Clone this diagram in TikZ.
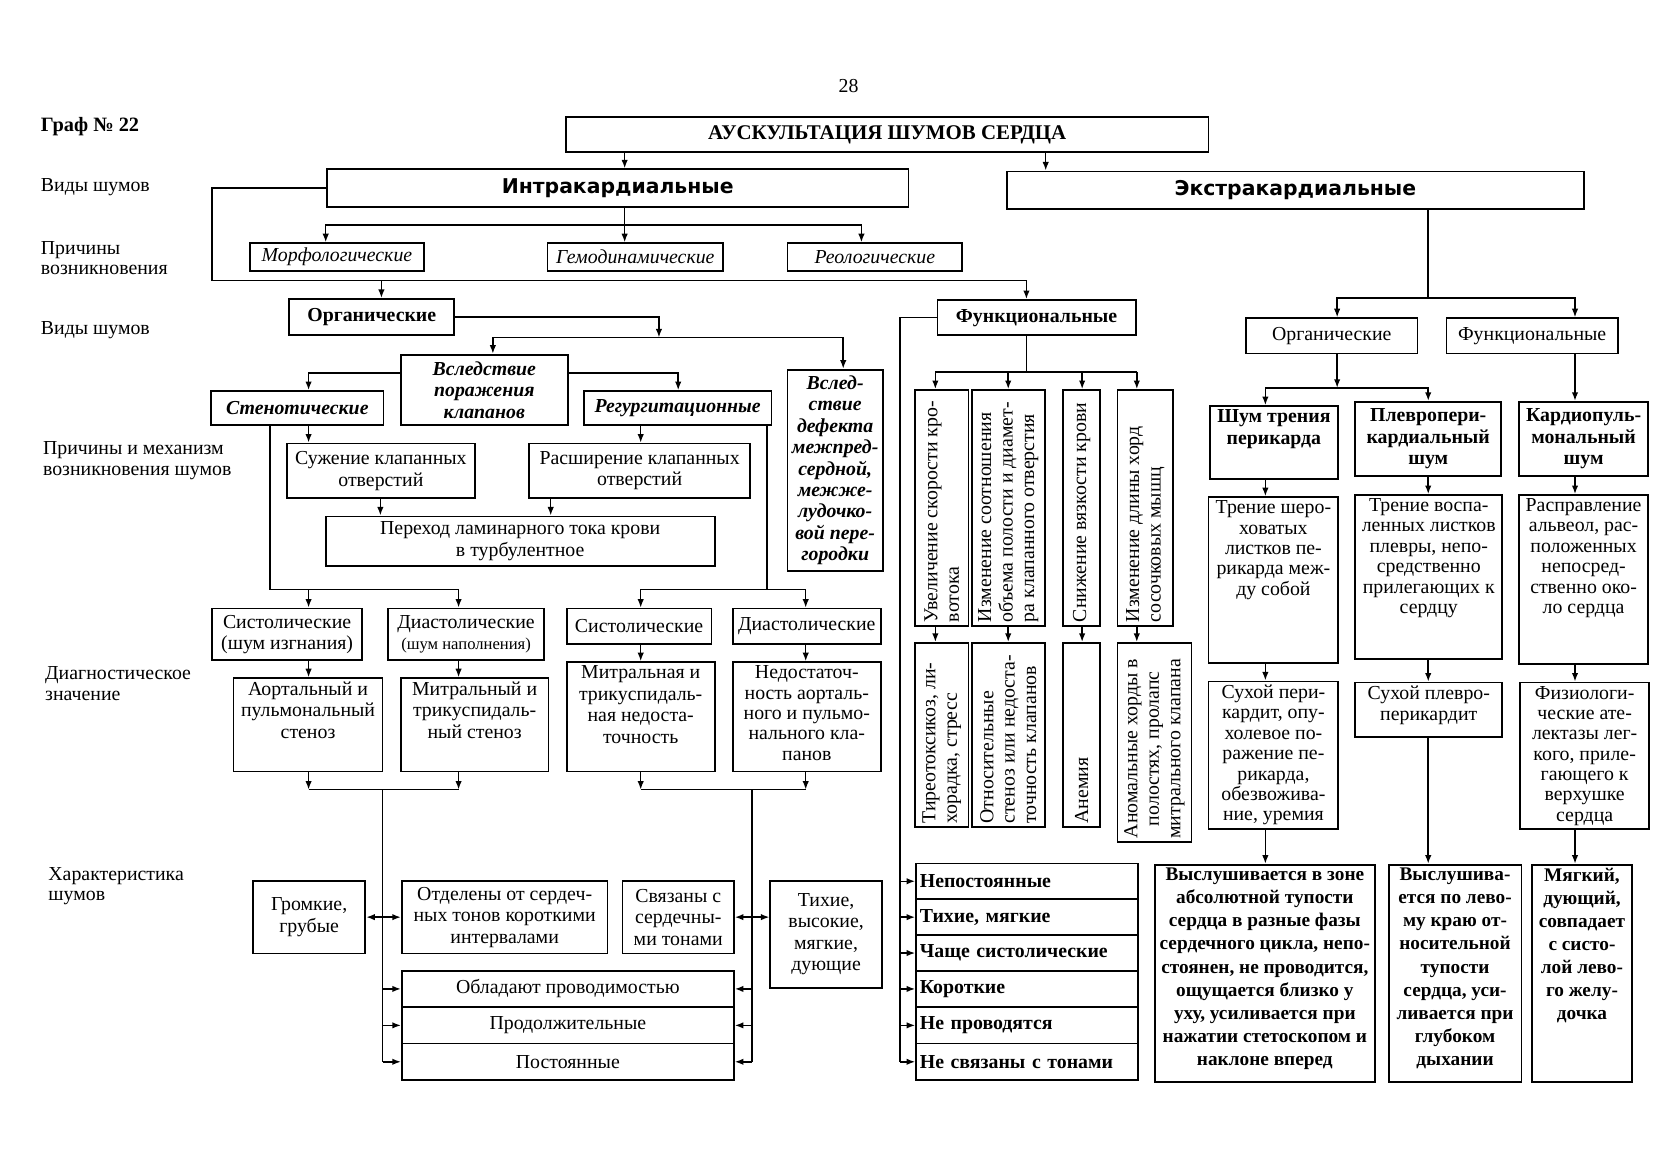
\documentclass[tikz,border=0pt]{standalone}
\usepackage{fontspec}
\setmainfont{Liberation Serif}
\newfontfamily\heavysans{DejaVu Sans}
\usetikzlibrary{arrows.meta}
\newcommand\myfs{\fontsize{18.5}{20}\selectfont}
\newcommand\tightfs{\fontsize{18.5}{19}\selectfont}
\newcommand\lblfs{\fontsize{18.5}{19}\selectfont}
\newcommand\heavyfs{\fontsize{19}{21}\heavysans\bfseries}
\tikzset{
  box/.style={draw, line width=1.7pt, inner sep=2pt, align=center, font=\myfs},
  txt/.style={inner sep=0pt, align=center, font=\myfs},
  ln/.style={line width=1.4pt},
  arr/.style={ln, -{Latex[length=8pt,width=6pt]}},
  arrr/.style={ln, {Latex[length=8pt,width=6pt]}-{Latex[length=8pt,width=6pt]}},
  lbl/.style={anchor=west, align=left, inner sep=0pt, font=\lblfs},
}
\newcommand\bx[7][]{%
  \pgfmathsetmacro\bxcx{(#3+#5)/2}\pgfmathsetmacro\bxcy{(#4+#6)/2}%
  \pgfmathsetmacro\bxw{#5-#3}\pgfmathsetmacro\bxh{#6-#4}%
  \node[box,minimum width=\bxw pt,minimum height=\bxh pt,#1] (#2) at (\bxcx,\bxcy) {#7};}
\newcommand\tbx[7][]{%
  \pgfmathsetmacro\bxcx{(#3+#5)/2}\pgfmathsetmacro\bxcy{(#4+#6)/2}%
  \pgfmathsetmacro\bxw{#5-#3}\pgfmathsetmacro\bxh{#6-#4}%
  \node[box,minimum width=\bxw pt,minimum height=\bxh pt] (#2) at (\bxcx,\bxcy) {};
  \node[txt,anchor=north,#1] (#2t) at ([yshift=-4pt]#2.north) {#7};}
\newcommand\rbx[7][]{%
  \pgfmathsetmacro\bxcx{(#3+#5)/2}\pgfmathsetmacro\bxcy{(#4+#6)/2}%
  \pgfmathsetmacro\bxw{#5-#3}\pgfmathsetmacro\bxh{#6-#4}%
  \node[box,minimum width=\bxw pt,minimum height=\bxh pt] (#2) at (\bxcx,\bxcy) {};
  \node[txt,rotate=90,anchor=west,align=left,#1] (#2t) at ([yshift=4pt]#2.south) {#7};}
\begin{document}
\begin{tikzpicture}[x=1pt,y=-1pt]
\fill[white] (0,0) rectangle (1568,1086);
\useasboundingbox (0,0) rectangle (1568,1086);

% ---------- left labels ----------
\node (pg) at (792,80) {\myfs 28};
\node[lbl,font=\fontsize{19}{20}\selectfont\bfseries] (lg) at (38,118) {Граф № 22};
\node[lbl] (l1) at (38,175) {Виды шумов};
\node[lbl] (l2) at (38,241) {Причины\\возникновения};
\node[lbl] (l3) at (38,308) {Виды шумов};
\node[lbl] (l4) at (40,430) {Причины и механизм\\возникновения шумов};
\node[lbl] (l5) at (42,638) {Диагностическое\\значение};
\node[lbl] (l6) at (45,827) {Характеристика\\шумов};

% ---------- top ----------
\bx[font=\fontsize{19.5}{21}\selectfont\bfseries]{title}{528}{109}{1128}{142}{АУСКУЛЬТАЦИЯ ШУМОВ СЕРДЦА}
\bx[font=\heavyfs]{intra}{305}{158}{848}{193}{Интракардиальные}
\bx[font=\heavyfs]{extra}{940}{160}{1478}{195}{Экстракардиальные}
\bx[font=\myfs\itshape]{morph}{233}{227}{396}{253}{Морфологические}
\bx[font=\myfs\itshape]{hemo}{511}{227}{675}{253}{Гемодинамические}
\bx[font=\myfs\itshape]{rheo}{735}{227}{898}{253}{Реологические}

% ---------- intracardial organic ----------
\bx[font=\myfs\bfseries]{orgL}{270}{279}{424}{313}{Органические}
\bx[font=\myfs\bfseries]{funcL}{875}{280}{1060}{313}{Функциональные}
\bx[font=\myfs\bfseries\itshape]{vsl}{374}{331}{530}{397}{Вследствие\\поражения\\клапанов}
\bx[font=\myfs\bfseries\itshape]{sten}{197}{365}{358}{397}{Стенотические}
\bx[font=\myfs\bfseries\itshape]{regu}{545}{365}{720}{397}{Регургитационные}
\bx[font=\myfs\bfseries\itshape]{defect}{735}{345}{824}{533}{Вслед-\\ствие\\дефекта\\межпред-\\сердной,\\межже-\\лудочко-\\вой пере-\\городки}
\bx{suzh}{268}{414}{443}{465}{Сужение клапанных\\отверстий}
\bx{rash}{494}{414}{700}{465}{Расширение клапанных\\отверстий}
\bx{perehod}{304}{482}{667}{528}{Переход ламинарного тока крови\\в турбулентное}
\bx{sys1}{198}{568}{338}{616}{Систолические\\(шум изгнания)}
\bx{dia1}{362}{568}{508}{616}{Диастолические\\{\fontsize{15.5}{20}\selectfont(шум наполнения)}}
\bx{sys2}{529}{568}{664}{601}{Систолические}
\bx{dia2}{684}{568}{822}{601}{Диастолические}
\tbx{aort}{218}{633}{357}{720}{Аортальный и\\пульмональный\\стеноз}
\tbx{mitr}{374}{633}{512}{720}{Митральный и\\трикуспидаль-\\ный стеноз}
\tbx{mitrins}{529}{618}{667}{720}{Митральная и\\трикуспидаль-\\ная недоста-\\точность}
\tbx[font=\tightfs]{aortins}{684}{618}{822}{720}{Недостаточ-\\ность аорталь-\\ного и пульмо-\\нального кла-\\панов}
\bx{gromk}{236}{822}{341}{890}{Громкие,\\грубые}
\bx{otdel}{375}{822}{567}{890}{Отделены от сердеч-\\ных тонов короткими\\интервалами}
\bx{svyaz}{581}{822}{685}{890}{Связаны с\\сердечны-\\ми тонами}
\bx{tikh}{719}{822}{823}{922}{Тихие,\\высокие,\\мягкие,\\дующие}
\bx{obl}{375}{906}{685}{940}{Обладают проводимостью}
\bx{prod}{375}{940}{685}{974}{Продолжительные}
\bx{post}{375}{974}{685}{1008}{Постоянные}

% ---------- intracardial functional ----------
\rbx{fu1}{854}{364}{904}{584}{Увеличение скорости кро-\\вотока}
\rbx{fu2}{907}{364}{975}{584}{Изменение соотношения\\объема полости и диамет-\\ра клапанного отверстия}
\rbx{fu3}{992}{364}{1027}{584}{Снижение вязкости крови}
\rbx{fu4}{1043}{364}{1095}{584}{Изменение длины хорд\\сосочковых мышц}
\rbx{fl1}{854}{600}{904}{772}{Тиреотоксикоз, ли-\\хорадка, стресс}
\rbx{fl2}{907}{600}{975}{772}{Относительные\\стеноз или недоста-\\точность клапанов}
\rbx{fl3}{992}{600}{1027}{772}{Анемия}
\rbx[align=center]{fl4}{1043}{600}{1112}{786}{Аномальные хорды в\\полостях, пролапс\\митрального клапана}
\bx[text width=200pt,align=left,inner xsep=3pt,font=\myfs\bfseries]{r1}{855}{806}{1062}{839}{Непостоянные}
\bx[text width=200pt,align=left,inner xsep=3pt,font=\myfs\bfseries]{r2}{855}{839}{1062}{873}{Тихие, мягкие}
\bx[text width=200pt,align=left,inner xsep=3pt,font=\myfs\bfseries]{r3}{855}{873}{1062}{906}{Чаще систолические}
\bx[text width=200pt,align=left,inner xsep=3pt,font=\myfs\bfseries]{r4}{855}{906}{1062}{940}{Короткие}
\bx[text width=200pt,align=left,inner xsep=3pt,font=\myfs\bfseries]{r5}{855}{940}{1062}{974}{Не проводятся}
\bx[text width=200pt,align=left,inner xsep=3pt,font=\myfs\bfseries]{r6}{855}{974}{1062}{1008}{Не связаны с тонами}

% ---------- extracardial ----------
\bx{orgR}{1163}{297}{1323}{330}{Органические}
\bx{funcR}{1350}{297}{1510}{330}{Функциональные}
\tbx[font=\myfs\bfseries]{trenP}{1129}{379}{1249}{447}{Шум трения\\перикарда}
\bx[font=\myfs\bfseries]{plevP}{1265}{375}{1401}{444}{Плевропери-\\кардиальный\\шум}
\bx[font=\myfs\bfseries]{kardP}{1418}{375}{1538}{444}{Кардиопуль-\\мональный\\шум}
\tbx[font=\tightfs]{e2a}{1128}{464}{1249}{619}{Трение шеро-\\ховатых\\листков пе-\\рикарда меж-\\ду собой}
\tbx[font=\tightfs]{e2b}{1265}{462}{1402}{615}{Трение воспа-\\ленных листков\\плевры, непо-\\средственно\\прилегающих к\\сердцу}
\tbx[font=\tightfs]{e2c}{1418}{462}{1538}{620}{Расправление\\альвеол, рас-\\положенных\\непосред-\\ственно око-\\ло сердца}
\tbx[font=\tightfs]{e3a}{1128}{636}{1249}{774}{Сухой пери-\\кардит, опу-\\холевое по-\\ражение пе-\\рикарда,\\обезвожива-\\ние, уремия}
\tbx[font=\tightfs]{e3b}{1265}{637}{1402}{688}{Сухой плевро-\\перикардит}
\tbx[font=\tightfs]{e3c}{1419}{637}{1539}{774}{Физиологи-\\ческие ате-\\лектазы лег-\\кого, приле-\\гающего к\\верхушке\\сердца}
\tbx[font=\fontsize{18}{21.5}\selectfont\bfseries]{e4a}{1078}{807}{1283}{1010}{Выслушивается в зоне\\абсолютной тупости\\сердца в разные фазы\\сердечного цикла, непо-\\стоянен, не проводится,\\ощущается близко у\\уху, усиливается при\\нажатии стетоскопом и\\наклоне вперед}
\tbx[font=\fontsize{18}{21.5}\selectfont\bfseries]{e4b}{1296}{807}{1420}{1010}{Выслушива-\\ется по лево-\\му краю от-\\носительной\\тупости\\сердца, уси-\\ливается при\\глубоком\\дыхании}
\tbx[font=\fontsize{18}{21.5}\selectfont\bfseries]{e4c}{1430}{807}{1523}{1010}{Мягкий,\\дующий,\\совпадает\\с систо-\\лой лево-\\го желу-\\дочка}

% ---------- connectors: top ----------
\draw[arr] (title.south -| 583,0) -- (intra.north -| 583,0);
\draw[arr] (title.south -| 976,0) -- (extra.north -| 976,0);
\coordinate (jA) at (583,210);
\draw[ln] (intra.south -| jA) -- (jA);
\draw[arr] (jA) -| (morph.north -| 304,0);
\draw[arr] (jA) -- (hemo.north -| jA);
\draw[arr] (jA) -| (rheo.north -| 804,0);
\coordinate (jB) at (356,262);
\draw[arr] (intra.west) -| (198,262) -| (funcL.north -| 958,0);
\draw[arr] (jB) -- (orgL.north -| jB);

% ---------- connectors: organic ----------
\coordinate (jC) at (615,315);
\draw[arr] (orgL.east) -| (jC);
\draw[arr] (jC) -| (vsl.north -| 460,0);
\draw[arr] (jC) -| (defect.north -| 787,0);
\draw[arr] (vsl.west |- 0,348) -| (sten.north -| 288,0);
\draw[arr] (vsl.east |- 0,348) -| (regu.north -| 633,0);
\draw[arr] (sten.south -| 288,0) -- (suzh.north -| 288,0);
\draw[arr] (regu.south -| 598,0) -- (rash.north -| 598,0);
\draw[arr] (suzh.south -| 355,0) -- (perehod.north -| 355,0);
\draw[arr] (rash.south -| 514,0) -- (perehod.north -| 514,0);
\coordinate (jD) at (252,550);
\coordinate (jE) at (288,550);
\draw[arr] (sten.south -| jD) |- (428,550) -- (dia1.north -| 428,0);
\draw[arr] (jE) -- (sys1.north -| jE);
\coordinate (jF) at (716,550);
\draw[ln] (regu.south -| jF) -- (jF);
\draw[arr] (jF) -| (sys2.north -| 598,0);
\draw[arr] (jF) -| (dia2.north -| 752,0);
\draw[arr] (sys1.south -| 288,0) -- (aort.north -| 288,0);
\draw[arr] (dia1.south -| 428,0) -- (mitr.north -| 428,0);
\draw[arr] (sys2.south -| 598,0) -- (mitrins.north -| 598,0);
\draw[arr] (dia2.south -| 752,0) -- (aortins.north -| 752,0);
\coordinate (kL) at (357,737);
\coordinate (kR) at (702,737);
\draw[arr] (aort.south -| 288,0) -- (288,737);
\draw[arr] (mitr.south -| 428,0) -- (428,737);
\draw[ln] (288,737) -- (428,737);
\draw[ln] (kL) -- (post.west -| kL);
\draw[arr] (mitrins.south -| 598,0) -- (598,737);
\draw[arr] (aortins.south -| 752,0) -- (752,737);
\draw[ln] (598,737) -- (752,737);
\draw[ln] (kR) -- (post.east -| kR);
\foreach \n in {obl,prod,post}{
  \draw[arr] (\n.west -| kL) -- (\n.west);
  \draw[arr] (\n.east -| kR) -- (\n.east);
}
\draw[arrr] (gromk.east) -- (otdel.west);
\draw[arrr] (svyaz.east) -- (tikh.west |- svyaz.east);

% ---------- connectors: functional ----------
\draw[ln] (funcL.west) -| (r6.west -| 840,0);
\foreach \n in {r1,r2,r3,r4,r5,r6}{
  \draw[arr] (\n.west -| 840,0) -- (\n.west);
}
\coordinate (jG) at (958,347);
\draw[ln] (funcL.south -| jG) -- (jG);
\draw[ln] (873,347) -- (1061,347);
\draw[arr] (873,347) -- (fu1.north -| 873,0);
\draw[arr] (941,347) -- (fu2.north -| 941,0);
\draw[arr] (1010,347) -- (fu3.north -| 1010,0);
\draw[arr] (1061,347) -- (fu4.north -| 1061,0);
\draw[arr] (fu1.south -| 873,0) -- (fl1.north -| 873,0);
\draw[arr] (fu2.south -| 941,0) -- (fl2.north -| 941,0);
\draw[arr] (fu3.south -| 1010,0) -- (fl3.north -| 1010,0);
\draw[arr] (fu4.south -| 1061,0) -- (fl4.north -| 1061,0);

% ---------- connectors: extracardial ----------
\coordinate (jH) at (1333,278);
\draw[ln] (extra.south -| jH) -- (jH);
\draw[arr] (jH) -| (orgR.north -| 1248,0);
\draw[arr] (jH) -| (funcR.north -| 1470,0);
\coordinate (jI) at (1248,362);
\draw[arr] (orgR.south -| jI) -- (jI);
\draw[arr] (jI) -| (trenP.north -| 1181,0);
\draw[arr] (jI) -| (plevP.north -| 1333,0);
\draw[arr] (funcR.south -| 1470,0) -- (kardP.north -| 1470,0);
\draw[arr] (trenP.south -| 1181,0) -- (e2a.north -| 1181,0);
\draw[arr] (plevP.south -| 1333,0) -- (e2b.north -| 1333,0);
\draw[arr] (kardP.south -| 1470,0) -- (e2c.north -| 1470,0);
\draw[arr] (e2a.south -| 1181,0) -- (e3a.north -| 1181,0);
\draw[arr] (e2b.south -| 1333,0) -- (e3b.north -| 1333,0);
\draw[arr] (e2c.south -| 1470,0) -- (e3c.north -| 1470,0);
\draw[arr] (e3a.south -| 1181,0) -- (e4a.north -| 1181,0);
\draw[arr] (e3b.south -| 1333,0) -- (e4b.north -| 1333,0);
\draw[arr] (e3c.south -| 1470,0) -- (e4c.north -| 1470,0);
\end{tikzpicture}
\end{document}
